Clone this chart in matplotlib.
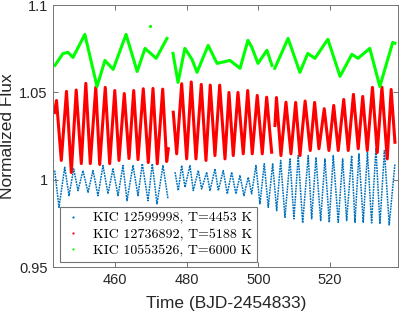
import numpy as np
import matplotlib
matplotlib.use("Agg")
import matplotlib.pyplot as plt
from matplotlib.lines import Line2D

nan = np.nan

# KIC 10553526 (green), T=6000 K
green_t = [443.27, 445.5, 446.9, 448.3, 451.6, 455.0, 457.2, 459.5, 463.1, 466.2, 468.4, 471.5, 474.5, nan,
           476.2, 477.6, 479.5, 481.5, 482.9, 483.7, 486.0, 488.5, 492.1, 494.9, 497.1, 498.2, 499.9, 502.4, 503.8, nan,
           504.6, 508.3, 511.6, 513.8, 515.8, 519.4, 522.8, 526.1, 527.8, 531.1, 533.9, 537.5, 538.1]
green_f = [1.0655, 1.0723, 1.0729, 1.0700, 1.0832, 1.0534, 1.0683, 1.0632, 1.0832, 1.0620, 1.0752, 1.0695, 1.0809, nan,
           1.0723, 1.0557, 1.0752, 1.0689, 1.0615, 1.0655, 1.0769, 1.0666, 1.0683, 1.0638, 1.0798, 1.0758, 1.0666, 1.0741, 1.0655, nan,
           1.0638, 1.0809, 1.0615, 1.0723, 1.0695, 1.0804, 1.0592, 1.0718, 1.0695, 1.0752, 1.0534, 1.0786, 1.0781]
green_out_t = [469.8]
green_out_f = [1.0878]

# KIC 12736892 (red), T=5188 K
red_t = [443.13, 443.69, 445.03, 446.48, 447.82, 449.19, 450.61, 451.87, 453.12, 454.65, 455.74, 457.3, 458.53,
         459.95, 461.13, 462.6, 463.92, 465.23, 466.43, 467.9, 469.3, 470.61, 471.81, 473.32, 474.43, 474.88, nan,
         476.27, 477.22, 478.62, 480.01, 481.29, 482.6, 484.08, 485.39, 486.59, 487.9, 489.22, 490.7, 491.81,
         493.01, 494.32, 495.8, 497.03, 498.31, 499.7, 501.1, 502.33, 503.72, nan,
         504.64, 505.06, 506.31, 507.71, 509.1, 510.42, 511.62, 513.06, 514.49, 515.71, 516.91, 518.39, 519.7,
         521.04, 522.3, 523.83, 525.09, 526.54, 527.88, 529.13, 530.39, 531.84, 533.18, 534.49, 535.97, 537.06, 538.12]
red_f = [1.0385, 1.0454, 1.0111, 1.0506, 1.0042, 1.0514, 1.0093, 1.0552, 1.0093, 1.0530, 1.0088, 1.0529, 1.0093,
         1.0511, 1.0111, 1.0494, 1.0122, 1.0511, 1.0116, 1.0521, 1.0099, 1.0523, 1.0092, 1.0519, 1.0105, 1.0178, nan,
         1.0387, 1.0149, 1.0550, 1.0120, 1.0560, 1.0120, 1.0546, 1.0111, 1.0542, 1.0139, 1.0542, 1.0120, 1.0500,
         1.0139, 1.0500, 1.0149, 1.0511, 1.0149, 1.0483, 1.0149, 1.0473, 1.0158, nan,
         1.0311, 1.0471, 1.0139, 1.0444, 1.0149, 1.0443, 1.0139, 1.0451, 1.0168, 1.0443, 1.0178, 1.0407, 1.0168,
         1.0426, 1.0168, 1.0460, 1.0168, 1.0489, 1.0178, 1.0477, 1.0168, 1.0529, 1.0156, 1.0530, 1.0120, 1.0517, 1.0215]

# KIC 12599998 (blue), T=4453 K
blue_t = [443.19, 444.39, 445.98, 447.18, 448.49, 449.69, 451.08, 452.48, 453.87, 455.27, 456.66, 458.06, 459.45,
          460.85, 462.24, 463.36, 465.03, 466.43, 467.63, 469.22, 470.42, 471.73, 473.4, 474.8, nan,
          476.75, 477.67, 478.62, 479.54, 480.93, 481.85, 483.25, 484.19, 485.59, 486.51, 487.91, 488.83, 490.22,
          491.34, 492.56, 493.76, 494.88, 495.99, 497.19, 498.14, 499.34, 500.45, 501.66, 502.77, 504.0,
          505.12, 506.23, 507.43, 508.83, 509.94, 511.14, 512.37, 513.93, 514.88, 516.08, 517.39, 518.59, 519.79,
          520.9, 522.3, 523.53, 524.64, 526.04, 526.96, 528.07, 529.27, 530.44, 531.61, 532.81, 533.93, 535.18,
          536.52, 538.12]
blue_f = [1.0053, 0.9843, 1.0072, 0.9910, 1.0063, 0.9939, 1.0053, 0.9929, 1.0053, 0.9910, 1.0082, 0.9920, 1.0063,
          0.9910, 1.0082, 0.9881, 1.0082, 0.9910, 1.0092, 0.9881, 1.0092, 0.9863, 1.0082, 0.9891, nan,
          1.0044, 0.9939, 1.0082, 0.9958, 1.0082, 0.9939, 1.0053, 0.9948, 1.0044, 0.9939, 1.0063, 0.9939, 1.0053,
          0.9920, 1.0044, 0.9920, 1.0025, 0.9910, 1.0015, 0.9920, 1.0082, 0.9863, 1.0092, 0.9843, 1.0092,
          0.9824, 1.0111, 0.9786, 1.0120, 0.9777, 1.0139, 0.9754, 1.0139, 0.9777, 1.0129, 0.9767, 1.0120, 0.9757,
          1.0139, 0.9757, 1.0120, 0.9767, 1.0139, 0.9757, 1.0149, 0.9757, 1.0158, 0.9754, 1.0178, 0.9748, 1.0168,
          0.9742, 1.0093]

labels = ["KIC 12599998, T=4453 K", "KIC 12736892, T=5188 K", "KIC 10553526, T=6000 K"]
colors = ["#0072BD", "#FF0000", "#00FF00"]
xticks = [460, 480, 500, 520]
yticks = [0.95, 1.0, 1.05, 1.1]
yticklabels = ["0.95", "1", "1.05", "1.1"]

plt.rcParams['font.family'] = ['Liberation Sans', 'DejaVu Sans']

fig = plt.figure(figsize=(3.99, 3.13), dpi=100)
ax = fig.add_axes([0.1336, 0.146, 0.8646, 0.838])

ax.plot(blue_t, blue_f, color=colors[0], lw=1.1, ls=(0, (1.2, 0.6)))
ax.plot(red_t, red_f, color=colors[1], lw=2.2, solid_joinstyle='round')
ax.plot(green_t, green_f, color=colors[2], lw=2.2, solid_joinstyle='round')
ax.plot(green_out_t, green_out_f, ls='none', marker='.', ms=2.5, color=colors[2])

ax.set_xlim(442.8, 539.05)
ax.set_ylim(0.95, 1.1)
ax.set_xticks(xticks)
ax.set_xticklabels([str(t) for t in xticks])
ax.set_yticks(yticks)
ax.set_yticklabels(yticklabels)
ax.tick_params(direction='in', top=True, right=True, length=3.5, width=0.6,
               color='0.35', labelsize=10.5, labelcolor='0.15', pad=4)
for s in ax.spines.values():
    s.set_color('0.45')
    s.set_linewidth(0.7)

ax.set_xlabel("Time (BJD-2454833)", fontsize=12.5, color='0.15')
ax.xaxis.set_label_coords(0.5, -0.108)
ax.set_ylabel("Normalized Flux", fontsize=12.5, color='0.15')
ax.yaxis.set_label_coords(-0.112, 0.5)

handles = [Line2D([], [], ls='none', marker='o', ms=1.6, mew=0, color=c) for c in colors]
leg = ax.legend(handles, labels, loc='lower left', bbox_to_anchor=(0.02, 0.02),
                prop={'family': 'cmr10', 'size': 10}, frameon=True, fancybox=False,
                handlelength=1.2, handletextpad=0.8, borderpad=0.35, labelspacing=0.25,
                borderaxespad=0.0)
leg.get_frame().set_edgecolor('0.45')
leg.get_frame().set_linewidth(0.8)
leg.get_frame().set_alpha(1)

fig.savefig("out.png", dpi=100)
